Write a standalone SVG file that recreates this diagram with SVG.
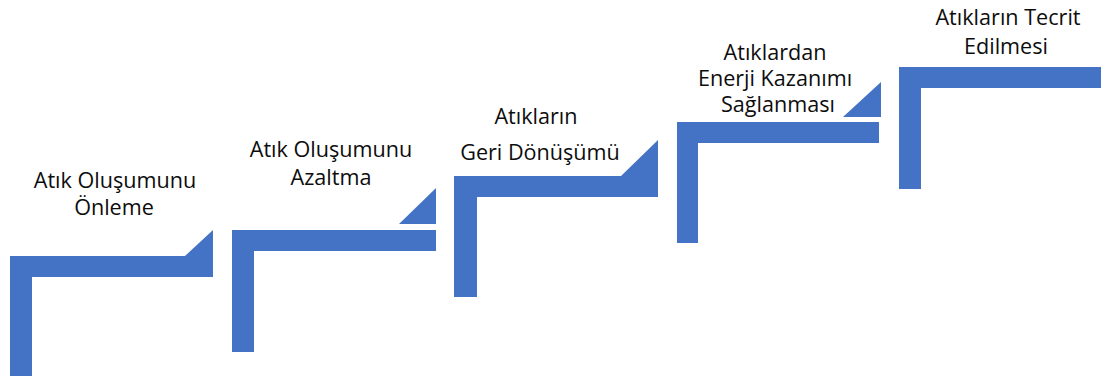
<svg xmlns="http://www.w3.org/2000/svg" width="1107" height="376" viewBox="0 0 1107 376">
<style>
.s{fill:#4472C4}
.t{font-family:"Open Sans","Liberation Sans",sans-serif;font-size:21.6px;fill:#0d0d0d;text-anchor:middle}
</style>
<rect width="1107" height="376" fill="#fff"/>
<g id="step1">
<polygon class="s" points="10,256 185,256 213,230 213,277 32,277 32,376 10,376"/>
<text class="t" x="115" y="188">Atık Oluşumunu</text>
<text class="t" x="114" y="215">Önleme</text>
</g>
<g id="step2">
<polygon class="s" points="232,230 436,230 436,251 254,251 254,352 232,352"/>
<polygon class="s" points="399,224 436,188 436,224"/>
<text class="t" x="331" y="157">Atık Oluşumunu</text>
<text class="t" x="331" y="185">Azaltma</text>
</g>
<g id="step3">
<polygon class="s" points="454,176 621,176 658,140 658,197 477,197 477,297 454,297"/>
<text class="t" x="536" y="124">Atıkların</text>
<text class="t" x="540" y="160">Geri Dönüşümü</text>
</g>
<g id="step4">
<polygon class="s" points="677,122 879,122 879,143 698,143 698,243 677,243"/>
<polygon class="s" points="843,117 881,82 881,117"/>
<text class="t" x="775" y="60">Atıklardan</text>
<text class="t" x="775" y="86">Enerji Kazanımı</text>
<text class="t" x="778" y="112">Sağlanması</text>
</g>
<g id="step5">
<polygon class="s" points="899,67 1101,67 1101,88 921,88 921,189 899,189"/>
<text class="t" x="1008" y="25">Atıkların Tecrit</text>
<text class="t" x="1006" y="54">Edilmesi</text>
</g>
<g id="connectors"/>
</svg>
